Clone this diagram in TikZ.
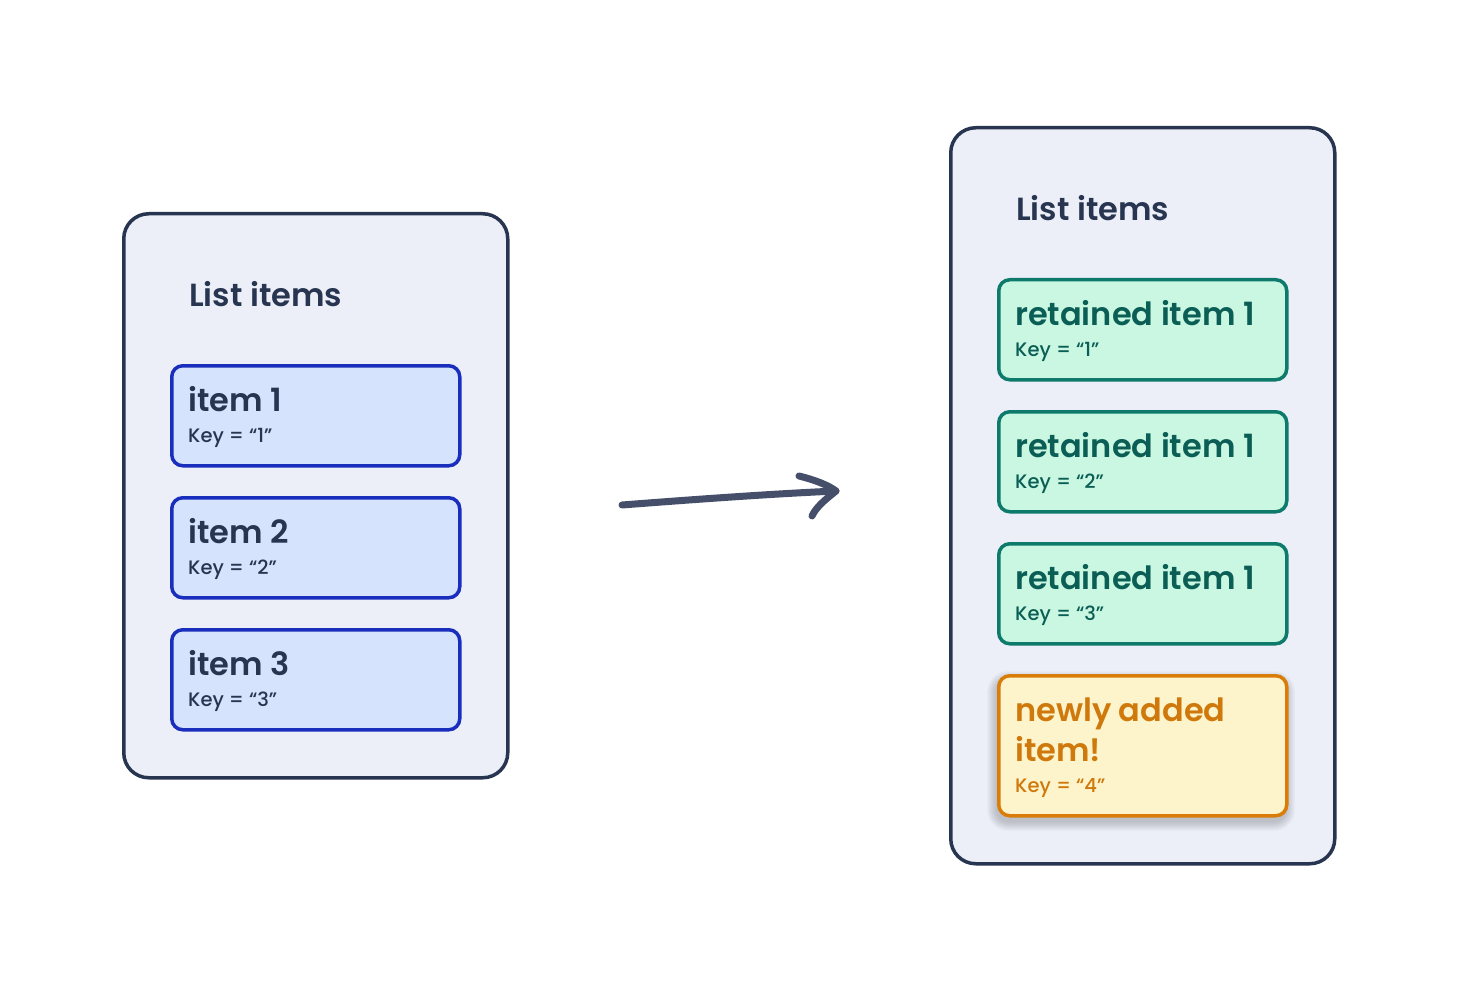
\documentclass[tikz,border=0pt]{standalone}
\usepackage{fontspec}
\setmainfont{Poppins}
\newfontfamily\medfont{Poppins Medium}
\newfontfamily\semifont{Poppins SemiBold}
\usetikzlibrary{calc}

\definecolor{ink}{HTML}{283550}
\definecolor{panelfill}{HTML}{ECEFF8}
\definecolor{blueline}{HTML}{1A2EBE}
\definecolor{bluefill}{HTML}{D5E3FC}
\definecolor{greenline}{HTML}{0D7A6B}
\definecolor{greenfill}{HTML}{C9F7E1}
\definecolor{greentext}{HTML}{0B5E55}
\definecolor{orangeline}{HTML}{D97C08}
\definecolor{orangefill}{HTML}{FDF4CB}
\definecolor{orangetext}{HTML}{CF790C}
\definecolor{arrowc}{HTML}{454F6A}

\tikzset{
  panel/.style={draw=ink, line width=3.5pt, fill=panelfill, rounded corners=25pt,
    anchor=north west, inner sep=0pt},
  itembox/.style={line width=3.5pt, rounded corners=11pt, anchor=north west,
    inner sep=0pt, minimum width=288pt},
  olditem/.style={itembox, draw=blueline, fill=bluefill, minimum height=100pt},
  keptitem/.style={itembox, draw=greenline, fill=greenfill, minimum height=100pt},
  newitem/.style={itembox, draw=orangeline, fill=orangefill, minimum height=140pt},
  heading/.style={anchor=base west, inner sep=0pt, text=ink,
    font=\semifont\fontsize{32}{40}\selectfont},
  itemtitle/.style={anchor=base west, inner sep=0pt,
    font=\semifont\fontsize{32}{40}\selectfont},
  keytext/.style={anchor=base west, inner sep=0pt,
    font=\medfont\fontsize{19.5}{23}\selectfont},
}

\begin{document}
\begin{tikzpicture}[x=1pt, y=-1pt]
\useasboundingbox[fill=white] (0,0) rectangle (1459,992);

% left panel: the list before the update
\node[panel, minimum width=384pt, minimum height=564pt] (lpanel) at (122,212) {};
\node[heading] (lhead) at (189,307) {List items};
\foreach \n/\y in {1/364, 2/496, 3/628} {
  \node[olditem] (l\n) at (170,\y) {};
  \node[itemtitle, text=ink] (l\n t) at ($(l\n.north west)+(18,47)$) {item \n};
  \node[keytext, text=ink] (l\n k) at ($(l\n.north west)+(18,78)$) {Key = “\n”};
}

% right panel: the list after the update
\node[panel, minimum width=384pt, minimum height=736pt] (rpanel) at (949,126) {};
\node[heading] (rhead) at (1016,221) {List items};
\foreach \n/\y in {1/278, 2/410, 3/542} {
  \node[keptitem] (r\n) at (997,\y) {};
  \node[itemtitle, text=greentext] (r\n t) at ($(r\n.north west)+(18,47)$) {retained item 1};
  \node[keytext, text=greentext] (r\n k) at ($(r\n.north west)+(18,78)$) {Key = “\n”};
}
% soft shadow under the new item
\foreach \i in {1,...,10} {
  \fill[black, opacity=0.018, rounded corners={11+\i}]
    ($(997,674)+(-\i,-\i+7)$) rectangle ($(1285,814)+(\i,\i+7)$);
}
\node[newitem] (r4) at (997,674) {};
\node[itemtitle, text=orangetext] (r4a) at ($(r4.north west)+(18,47)$) {newly added};
\node[itemtitle, text=orangetext] (r4b) at ($(r4.north west)+(18,87)$) {item!};
\node[keytext, text=orangetext] (r4k) at ($(r4.north west)+(18,118)$) {Key = “4”};

% hand-drawn arrow between the panels
\coordinate (astart) at (622,505);
\coordinate (aend) at (836,491);
\draw[arrowc, line width=7pt, line cap=round] (astart) .. controls (700,499) and (770,494) .. (aend);
\draw[arrowc, line width=7pt, line cap=round, line join=round]
  (799,476) .. controls (815,480) and (828,485) .. (aend)
  .. controls (826,499) and (816,507) .. (812,516);
\end{tikzpicture}
\end{document}
